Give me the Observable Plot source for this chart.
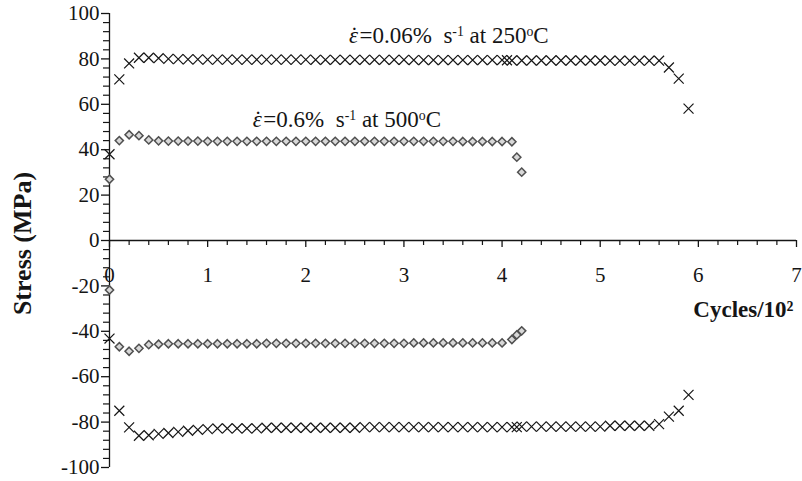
<!DOCTYPE html>
<html><head><meta charset="utf-8">
<script src="https://cdn.jsdelivr.net/npm/d3@7"></script>
<script src="https://cdn.jsdelivr.net/npm/@observablehq/plot@0.6"></script>
<style>
body{margin:0;background:#fff}
svg text{font-family:"Liberation Serif","Times New Roman","DejaVu Serif",serif}
</style>
</head><body><div id="chart"></div>
<script>
// Cycles / 10^2
const cyc250T = [0,0.1,0.2,0.3,0.4,0.5,0.6,0.7,0.8,0.9,1.0,1.1,1.2,1.3,1.4,1.5,1.6,1.7,1.8,1.9,2.0,2.1,2.2,2.3,2.4,2.5,2.6,2.7,2.8,2.9,3.0,3.1,3.2,3.3,3.4,3.5,3.6,3.7,3.8,3.9,4.0,4.05,4.1,4.2,4.3,4.4,4.5,4.6,4.7,4.8,4.9,5.0,5.1,5.2,5.3,5.4,5.5,5.6,5.7,5.8,5.9];
const stress250T = [38,71,78,80.5,80.5,80.3,80,79.9,79.8,79.8,79.7,79.7,79.7,79.7,79.7,79.7,79.7,79.7,79.7,79.7,79.7,79.6,79.6,79.6,79.6,79.6,79.6,79.6,79.6,79.6,79.6,79.5,79.5,79.5,79.5,79.5,79.5,79.5,79.5,79.5,79.5,79.4,79.3,79.3,79.3,79.3,79.3,79.3,79.3,79.3,79.3,79.3,79.2,79.2,79.2,79.2,79.2,79.2,76.2,71.3,58.1];
const cyc250C = [0,0.1,0.2,0.3,0.4,0.5,0.6,0.7,0.8,0.9,1.0,1.1,1.2,1.3,1.4,1.5,1.6,1.7,1.8,1.9,2.0,2.1,2.2,2.3,2.4,2.5,2.6,2.7,2.8,2.9,3.0,3.1,3.2,3.3,3.4,3.5,3.6,3.7,3.8,3.9,4.0,4.1,4.15,4.2,4.3,4.4,4.5,4.6,4.7,4.8,4.9,5.0,5.1,5.2,5.3,5.4,5.5,5.6,5.7,5.8,5.9];
const stress250C = [-43.2,-75,-82.3,-86,-85.8,-85.2,-84.8,-84.3,-83.8,-83.4,-83.1,-82.8,-82.8,-82.8,-82.8,-82.8,-82.5,-82.5,-82.5,-82.5,-82.5,-82.5,-82.5,-82.5,-82.5,-82.5,-82.2,-82.2,-82.2,-82.2,-82.2,-82.2,-82.2,-82.2,-82.2,-82.2,-82.2,-82.2,-82.2,-82.2,-82.2,-82.2,-82.2,-82,-82,-82,-82,-82,-82,-82,-82,-82,-81.6,-81.6,-81.6,-81.6,-81.6,-80.9,-77.6,-75,-68];
const cyc500 = [0,0.1,0.2,0.3,0.4,0.5,0.6,0.7,0.8,0.9,1.0,1.1,1.2,1.3,1.4,1.5,1.6,1.7,1.8,1.9,2.0,2.1,2.2,2.3,2.4,2.5,2.6,2.7,2.8,2.9,3.0,3.1,3.2,3.3,3.4,3.5,3.6,3.7,3.8,3.9,4.0,4.1,4.15,4.2];
const stress500T = [27,44,46.6,46.2,44.3,43.9,43.8,43.8,43.8,43.8,43.7,43.7,43.7,43.7,43.7,43.7,43.7,43.7,43.7,43.7,43.7,43.7,43.7,43.7,43.7,43.7,43.7,43.7,43.7,43.7,43.7,43.7,43.7,43.7,43.7,43.7,43.6,43.6,43.6,43.6,43.6,43.5,36.7,30.1];
const stress500C = [-21.8,-46.8,-48.8,-47.5,-45.9,-45.7,-45.5,-45.5,-45.5,-45.5,-45.5,-45.5,-45.5,-45.5,-45.5,-45.5,-45.3,-45.3,-45.3,-45.3,-45.3,-45.3,-45.3,-45.3,-45.3,-45.3,-45.3,-45.3,-45.3,-45.3,-45.3,-45.1,-45.1,-45.1,-45.1,-45.1,-45.1,-45.1,-45.1,-45.1,-45.1,-43.6,-41.6,-39.8];

const xTickLabels = [0,1,2,3,4,5,6,7];
const yTickLabels = [100,80,60,40,20,0,-20,-40,-60,-80,-100];
const annoRate = ["0.06%", "0.6%"];
const annoTemp = ["250", "500"];
const annoCyc = [2.44, 1.46];
const annoStress = [90.4, 53.4];
const yTitle = "Stress (MPa)";
const xTitle = "Cycles/10²";

const xMinor = d3.range(0, 7.0001, 0.2).filter(v => Math.abs(v - Math.round(v)) > 1e-6);
const yMinor = d3.range(-100, 100.001, 4).filter(v => Math.abs(v % 20) > 1e-6);

const toRows = (xs, ys) => xs.map((x, i) => ({x, y: ys[i]}));
const d250 = [...toRows(cyc250T, stress250T), ...toRows(cyc250C, stress250C)];
const d500 = [...toRows(cyc500, stress500T), ...toRows(cyc500, stress500C)];
const annos = annoRate.map((r, i) => ({rate: r, temp: annoTemp[i], x: annoCyc[i], y: annoStress[i]}));

const ink = "#151515";
const serif = '"Liberation Serif", "Times New Roman", "DejaVu Serif", serif';
const plot = Plot.plot({
  width: 802, height: 481,
  marginLeft: 109, marginRight: 6, marginTop: 13, marginBottom: 14,
  x: {domain: [0, 7], axis: null},
  y: {domain: [-100, 100], axis: null},
  style: {fontFamily: serif, fontSize: "21px", color: ink, background: "#fff", overflow: "visible"},
  marks: [
    Plot.ruleY([0], {x1: 0, x2: 7, stroke: ink, strokeWidth: 1.3}),
    Plot.ruleX([0], {y1: -100, y2: 100, stroke: ink, strokeWidth: 1.3}),
    Plot.ruleX(xMinor, {x: d => d, y1: 0, y2: 0, insetBottom: -5, stroke: ink, strokeWidth: 1.2}),
    Plot.ruleX(xTickLabels, {x: d => d, y1: 0, y2: 0, insetBottom: -7, stroke: ink, strokeWidth: 1.3}),
    Plot.ruleY(yMinor, {y: d => d, x1: 0, x2: 0, insetLeft: -6, stroke: ink, strokeWidth: 1.2}),
    Plot.ruleY(yTickLabels, {y: d => d, x1: 0, x2: 0, insetLeft: -8, stroke: ink, strokeWidth: 1.3}),
    Plot.text(yTickLabels, {x: 0, y: d => d, text: d => String(d), textAnchor: "end", dx: -10, fill: ink, fontFamily: serif, fontSize: 21}),
    Plot.text(xTickLabels, {x: d => d, y: 0, text: d => String(d), dy: 35, fill: ink, fontFamily: serif, fontSize: 21}),
    Plot.dot(d250, {x: "x", y: "y", symbol: "times", r: 4.6, stroke: ink, strokeWidth: 1.2}),
    Plot.dot(d500, {x: "x", y: "y", symbol: "diamond2", r: 3.7, fill: "#d8d8d8", stroke: "#505050", strokeWidth: 1.5}),
    Plot.text(annos, {x: "x", y: "y", text: d => d.rate, textAnchor: "start", fontSize: 23, fill: ink, fontFamily: serif}),
    Plot.text([yTitle], {frameAnchor: "left", textAnchor: "middle", dx: -87, dy: 3, rotate: -90, text: d => d, fontWeight: "bold", fontSize: 26, fill: ink, fontFamily: serif}),
    Plot.text([xTitle], {x: 7, y: 0, text: d => d, textAnchor: "end", dx: -3, dy: 69, fontWeight: "bold", fontSize: 23, fill: ink, fontFamily: serif})
  ]
});

d3.select(plot).selectAll("text")
  .filter(function() { return annoRate.includes(this.textContent); })
  .each(function() {
    const a = annos.find(d => d.rate === this.textContent);
    const t = d3.select(this);
    t.text(null).style("white-space", "pre");
    t.append("tspan").attr("font-style", "italic").text("ε");
    t.append("tspan").attr("dx", "-0.33em").text("\u02D9");
    t.append("tspan").attr("dx", "0.06em").text("=" + a.rate + "  s");
    t.append("tspan").attr("font-size", "60%").attr("baseline-shift", "super").text("-1");
    t.append("tspan").text(" at " + a.temp);
    t.append("tspan").attr("font-size", "60%").attr("baseline-shift", "super").text("o");
    t.append("tspan").text("C");
  });

document.getElementById("chart").appendChild(plot);
</script>
</body></html>
